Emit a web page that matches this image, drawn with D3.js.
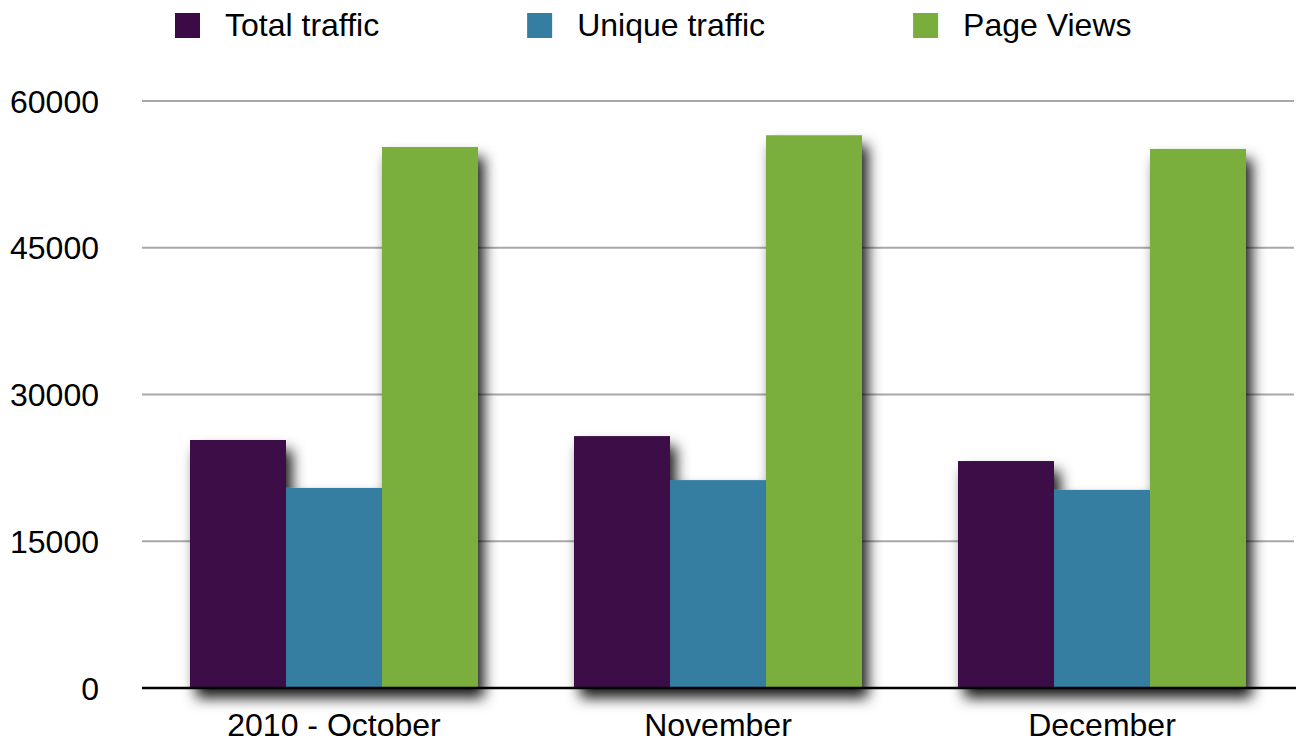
<!DOCTYPE html>
<meta charset="utf-8">
<style>
  body { margin: 0; background: #fff; }
  text { font-family: "Liberation Sans", Arial, Helvetica, sans-serif; fill: #000; }
</style>
<body>
<svg width="1296" height="742"></svg>
<script src="https://cdn.jsdelivr.net/npm/d3@7"></script>
<script>
  var months = ['2010 - October', 'November', 'December']
  var seriesNames = ['Total traffic', 'Unique traffic', 'Page Views']
  var totalTraffic = [25350, 25750, 23200]
  var uniqueTraffic = [20450, 21250, 20250]
  var pageViews = [55300, 56500, 55100]
  var yTicks = [0, 15000, 30000, 45000, 60000]
  var colors = ['#3c0b46', '#357ea2', '#7aae3c']

  var series = [totalTraffic, uniqueTraffic, pageViews]

  var svg = d3.select('svg')
  var plotLeft = 142, plotRight = 1294, plotTop = 101, plotBottom = 688
  var fontSize = 32

  var x = d3.scaleBand()
    .domain(months)
    .range([plotLeft, plotRight])
    .paddingInner(0.25)
    .paddingOuter(0.125)

  var xs = d3.scaleBand()
    .domain(seriesNames)
    .range([0, x.bandwidth()])

  var y = d3.scaleLinear()
    .domain([0, 60000])
    .range([plotBottom, plotTop])

  // drop shadow under each group of bars
  var defs = svg.append('defs')
  var f = defs.append('filter')
    .attr('id', 'shadow')
    .attr('x', '-20%').attr('y', '-20%')
    .attr('width', '150%').attr('height', '150%')
  f.append('feDropShadow')
    .attr('dx', 6).attr('dy', 10)
    .attr('stdDeviation', 7)
    .attr('flood-color', '#000')
    .attr('flood-opacity', 0.9)

  // gridlines
  svg.append('g')
    .selectAll('line')
    .data(yTicks.filter(function(d) { return d > 0 }))
    .enter().append('line')
    .attr('x1', plotLeft)
    .attr('x2', plotRight)
    .attr('y1', function(d) { return y(d) })
    .attr('y2', function(d) { return y(d) })
    .attr('stroke', '#a8a8a8')
    .attr('stroke-width', 2)

  // y labels
  svg.append('g')
    .selectAll('text')
    .data(yTicks)
    .enter().append('text')
    .attr('x', 99)
    .attr('y', function(d) { return y(d) })
    .attr('dy', '0.36em')
    .attr('text-anchor', 'end')
    .attr('font-size', fontSize)
    .text(function(d) { return d })

  // bars
  var groups = svg.append('g')
    .selectAll('g')
    .data(months)
    .enter().append('g')
    .attr('filter', 'url(#shadow)')
    .attr('transform', function(d) { return 'translate(' + x(d) + ',0)' })

  groups.selectAll('rect')
    .data(function(m, i) {
      return seriesNames.map(function(s, j) {
        return { name: s, value: series[j][i], color: colors[j] }
      })
    })
    .enter().append('rect')
    .attr('x', function(d) { return xs(d.name) })
    .attr('width', xs.bandwidth())
    .attr('y', function(d) { return y(d.value) })
    .attr('height', function(d) { return y(0) - y(d.value) })
    .attr('fill', function(d) { return d.color })

  // baseline
  svg.append('line')
    .attr('x1', plotLeft)
    .attr('x2', 1296)
    .attr('y1', plotBottom)
    .attr('y2', plotBottom)
    .attr('stroke', '#000')
    .attr('stroke-width', 2.5)

  // x labels
  svg.append('g')
    .selectAll('text')
    .data(months)
    .enter().append('text')
    .attr('x', function(d) { return x(d) + x.bandwidth() / 2 })
    .attr('y', 736)
    .attr('text-anchor', 'middle')
    .attr('font-size', fontSize)
    .text(function(d) { return d })

  // legend
  var lx = 175
  seriesNames.forEach(function(name, i) {
    var g = svg.append('g').attr('transform', 'translate(' + lx + ',13)')
    g.append('rect')
      .attr('width', 25)
      .attr('height', 25)
      .attr('fill', colors[i])
    var t = g.append('text')
      .attr('x', 50)
      .attr('y', 23)
      .attr('font-size', fontSize)
      .text(name)
    lx += 50 + t.node().getComputedTextLength() + 148
  })
</script>
</body>
